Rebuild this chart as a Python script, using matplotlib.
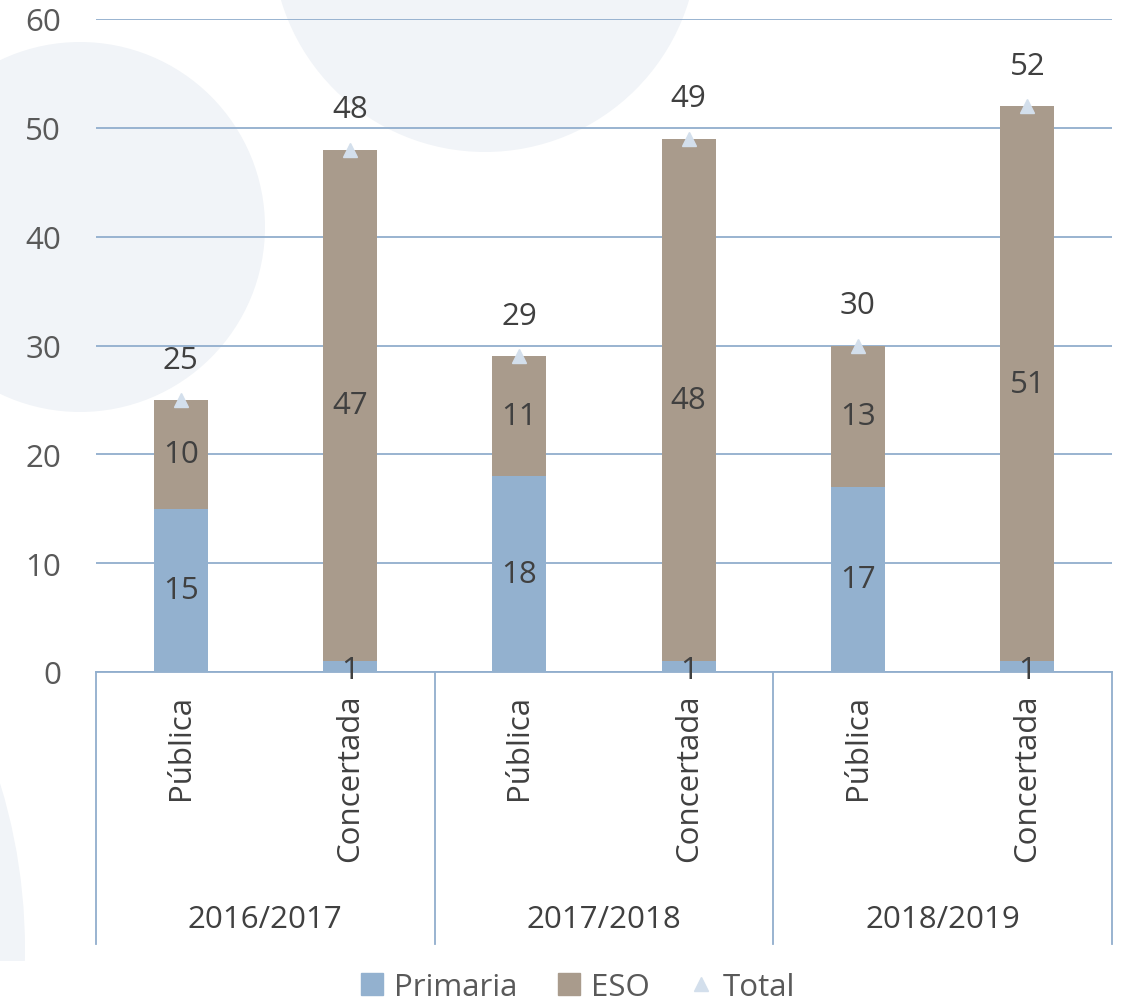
import matplotlib
matplotlib.use("Agg")
from matplotlib import pyplot as plt
from matplotlib.patches import Circle, Patch, Rectangle
from matplotlib.lines import Line2D
import numpy as np

plt.rcParams['font.family'] = ['Open Sans', 'DejaVu Sans']

years = ['2016/2017', '2017/2018', '2018/2019']
tipos = ['Pública', 'Concertada']
primaria = [15, 1, 18, 1, 17, 1]
eso = [10, 47, 11, 48, 13, 51]
total = [25, 48, 29, 49, 30, 52]

c_prim = '#93b1cf'
c_eso = '#a99b8c'
c_tot = '#d3dfec'
c_grid = '#91aecd'
c_txt = '#404040'
c_tick = '#595959'
fs = 22.5

fig = plt.figure(figsize=(11.25, 10.03), dpi=100)
W, H = 1125, 1003

# decorative background circles (pixel coords)
bg = '#f1f4f8'
def circ(cx, cy, r):
    return Circle((cx, H - cy), r, transform=None, facecolor=bg, edgecolor='none', zorder=0)

for c in [circ(485, -60, 213), circ(80, 228, 185)]:
    fig.patches.append(c)
big = circ(-539, 950, 564)
clip = Rectangle((0, H - 962), 200, 400, transform=None)
big.set_clip_path(clip)
fig.patches.append(big)

ax = fig.add_axes([96 / W, 1 - 673 / H, (1112 - 96) / W, (673 - 20) / H])
ax.set_zorder(2)
ax.patch.set_alpha(0)

x = np.arange(len(total))
width = 0.32
ax.bar(x, primaria, width, color=c_prim, zorder=3)
ax.bar(x, eso, width, bottom=primaria, color=c_eso, zorder=3)
ax.plot(x, total, linestyle='none', marker='^', markersize=10, color=c_tot, zorder=4)

for i in range(len(x)):
    ax.text(x[i], primaria[i] / 2 if primaria[i] > 2 else 0.2, str(primaria[i]),
            ha='center', va='center', fontsize=fs, color=c_txt, zorder=5)
    ax.text(x[i], primaria[i] + eso[i] / 2, str(eso[i]),
            ha='center', va='center', fontsize=fs, color=c_txt, zorder=5)
    ax.annotate(str(total[i]), (x[i], total[i]), xytext=(0, 29), textcoords='offset points',
                ha='center', va='center', fontsize=fs, color=c_txt, zorder=5)

ax.set_xlim(-0.5, len(x) - 0.5)
ax.set_ylim(0, 60)
ax.set_yticks(range(0, 61, 10))
ax.yaxis.grid(True, color=c_grid, linewidth=1.3, zorder=1)
ax.tick_params(axis='y', length=0, pad=25, labelsize=fs, labelcolor=c_tick)
ax.tick_params(axis='x', length=0, labelbottom=False)
for s in ['top', 'right', 'left']:
    ax.spines[s].set_visible(False)
ax.spines['bottom'].set_color(c_grid)
ax.spines['bottom'].set_linewidth(1.3)

# two-level category axis
depth = -(945 - 673) / (673 - 20)
for b in [-0.5, 1.5, 3.5, 5.5]:
    ax.add_line(Line2D([b, b], [0, depth], transform=ax.get_xaxis_transform(),
                       color=c_grid, linewidth=1.3, clip_on=False))
for i in range(len(x)):
    ax.text(x[i], -0.033, tipos[i % 2], transform=ax.get_xaxis_transform(),
            rotation=90, ha='center', va='top', fontsize=fs, color=c_txt)
for j, yr in enumerate(years):
    ax.text(2 * j + 0.5, -0.378, yr, transform=ax.get_xaxis_transform(),
            ha='center', va='center', fontsize=fs, color=c_txt)

handles = [Patch(color=c_prim, label='Primaria'), Patch(color=c_eso, label='ESO'),
           Line2D([], [], linestyle='none', marker='^', markersize=10, color=c_tot, label='Total')]
fig.legend(handles=handles, loc='center', bbox_to_anchor=(0.514, 0.015), ncol=3,
           frameon=False, fontsize=fs, labelcolor=c_tick, handlelength=0.7, handleheight=0.7,
           handletextpad=0.35, columnspacing=1.3)

fig.savefig('out.png', dpi=100)
